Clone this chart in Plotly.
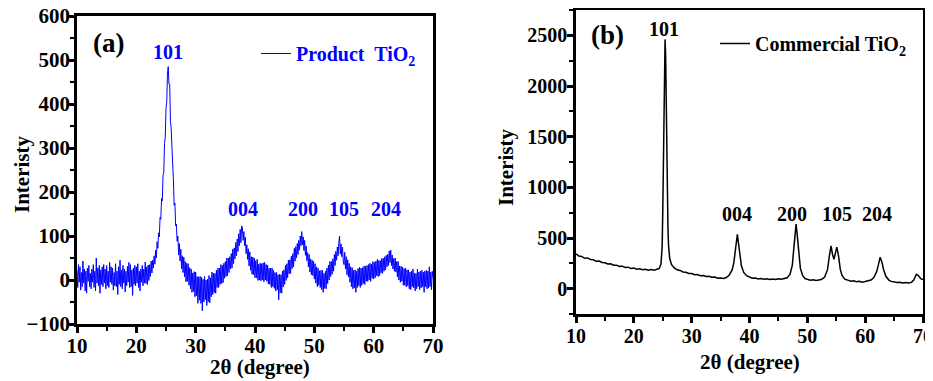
import numpy as np
import plotly.graph_objects as go

# The page body keeps an 8 px margin, so the figure itself is 8 px smaller and
# every position below is given in window pixels and converted.
WIN_W, WIN_H, BODY = 933, 381, 8
W, H = WIN_W - BODY, WIN_H - BODY

# ---------------- data ----------------
# (a) Product TiO2: intensity sampled every 0.125 deg from 10 to 70 deg (2-theta)
product_start, product_end = 10, 70
product_intensity = [
    23, -17, 35, -5, 30, -23, 17, -15,
    43, -7, 25, -25, 20, -30, 27, -3,
    33, -15, 15, -20, 25, -5, 35, -17,
    20, -25, 50, -7, 27, -13, 33, -30,
    23, -10, 30, -15, 35, -7, 25, -20,
    33, -13, 20, -17, 40, -5, 30, -10,
    27, -23, 17, -13, 37, -15, 20, -33,
    30, -10, 45, -15, 23, -20, 33, -7,
    25, -27, 20, -13, 31, -5, 40, -17,
    35, -15, 23, -35, 27, -10, 33, -13,
    30, -7, 37, -17, 20, -25, 25, -5,
    33, -13, 25, -7, 41, -8, 30, -10,
    34, -1, 35, 8, 43, 16, 45, 27,
    55, 36, 68, 50, 87, 72, 107, 98,
    142, 138, 185, 180, 237, 245, 310, 325,
    390, 405, 470, 485, 445, 445, 360, 345,
    302, 235, 227, 170, 175, 123, 127, 88,
    100, 57, 83, 43, 70, 25, 55, 17,
    52, 7, 42, -4, 38, -3, 37, -12,
    28, -20, 25, -28, 16, -26, 19, -38,
    18, -36, 8, -53, 7, -46, 8, -53,
    6, -70, 2, -50, 8, -45, 0, -58,
    2, -49, 10, -52, 5, -38, 18, -33,
    15, -29, 15, -30, 22, -17, 27, -17,
    27, -10, 35, -8, 33, -6, 38, 4,
    42, 8, 50, 10, 50, 17, 53, 25,
    60, 27, 70, 37, 73, 48, 85, 55,
    93, 65, 105, 78, 115, 85, 123, 118,
    90, 110, 78, 97, 60, 80, 47, 71,
    32, 64, 22, 53, 13, 52, 12, 50,
    5, 44, 5, 47, -1, 36, 0, 38,
    -2, 37, 0, 39, -4, 40, 0, 35,
    -3, 34, -9, 27, -10, 27, -17, 27,
    -15, 22, -19, 17, -25, 17, -22, 12,
    -45, 13, -29, 12, -30, 20, -16, 23,
    -10, 33, -1, 37, 5, 45, 14, 46,
    15, 54, 26, 60, 30, 72, 43, 76,
    50, 83, 58, 90, 68, 100, 78, 110,
    80, 98, 67, 90, 56, 77, 44, 62,
    30, 58, 18, 48, 12, 45, 10, 42,
    2, 37, -7, 30, -15, 27, -12, 21,
    -17, 22, -22, 22, -28, 15, -19, 20,
    -20, 27, -8, 34, 0, 42, 8, 42,
    13, 48, 20, 58, 33, 65, 45, 75,
    55, 85, 100, 59, 82, 53, 75, 43,
    35, 63, 25, 53, 12, 46, 7, 38,
    -5, 30, -15, 28, -20, 22, -18, 23,
    -28, 20, -17, 26, -13, 29, -17, 27,
    -12, 28, -8, 32, -10, 31, -3, 33,
    -3, 35, 0, 38, -3, 36, 4, 42,
    2, 40, 5, 43, 10, 47, 8, 44,
    10, 44, 16, 49, 15, 49, 20, 53,
    23, 56, 30, 58, 33, 66, 40, 68,
    33, 57, 25, 49, 20, 50, 18, 42,
    7, 42, 0, 32, -5, 31, -3, 29,
    -12, 26, -12, 27, -16, 23, -13, 23,
    -20, 18, -22, 20, -15, 25, -18, 15,
    -25, 15, -20, 25, -15, 18, -22, 20,
    -18, 22, -15, 18, -28, 20, -15, 22,
    -20, 20, -18, 30, -15, 18, -22, 20,
    5,
]
product_2theta = np.linspace(product_start, product_end, len(product_intensity))

# (b) Commercial TiO2
commercial_2theta = [
    10, 10.5, 11, 11.5, 12, 12.5, 13, 13.5, 14, 14.5, 15, 15.5, 16, 16.5, 17, 17.5,
    18, 18.5, 19, 19.5, 20, 20.5, 21, 21.5, 22, 22.5, 23, 23.5, 24,
    24.4, 24.7, 24.9,
    25.0, 25.1, 25.2, 25.3, 25.4, 25.5, 25.6, 25.7, 25.8, 25.9, 26.0,
    26.2, 26.5, 26.8,
    27, 27.5, 28, 28.5, 29, 29.5, 30, 30.5, 31, 31.5, 32, 32.5, 33, 33.5, 34, 34.5,
    35, 35.5, 36, 36.5,
    37, 37.3, 37.6, 37.75, 37.9, 38.05, 38.3, 38.6,
    39, 39.5, 40, 40.5, 41, 41.5, 42, 42.5, 43, 43.5, 44, 44.5, 45, 45.5, 46, 46.5,
    47, 47.4, 47.7, 47.9, 48.05, 48.2, 48.5, 48.8, 49.2, 49.6,
    50, 50.5, 51, 51.5, 52, 52.5, 53, 53.5,
    53.8, 54.1, 54.35, 54.6, 54.85, 55.1, 55.4, 55.7,
    56, 56.5, 57, 57.5, 58, 58.5, 59, 59.5, 60, 60.5, 61, 61.5, 62,
    62.3, 62.6, 62.9, 63.2, 63.6, 64.1, 64.5,
    65, 65.5, 66, 66.5, 67, 67.5, 68,
    68.4, 68.85, 69.2, 69.6, 70,
]
commercial_intensity = [
    345, 322, 318, 300, 303, 288, 285, 270, 272, 258, 256, 243, 245, 232, 232, 220,
    222, 210, 212, 200, 203, 192, 196, 186, 192, 183, 190, 182, 192,
    200, 245, 420,
    750, 1150, 1700, 2250, 2460, 2300, 1800, 1200, 850, 600, 430,
    300, 240, 212,
    205, 186, 180, 165, 162, 150, 150, 138, 140, 128, 130, 120, 122, 112, 114, 104,
    106, 100, 110, 135,
    185, 260, 400, 490, 537, 470, 340, 225,
    160, 128, 115, 104, 106, 96, 100, 92, 98, 90, 96, 90, 97, 92, 100, 108,
    140, 230, 420, 590, 637, 560, 360, 200, 128, 100,
    92, 84, 88, 80, 86, 92, 115, 190,
    320, 422, 340, 290, 350, 410, 320, 190,
    130, 92, 84, 74, 78, 68, 72, 64, 70, 74, 85, 110, 170,
    240, 310, 260, 185, 120, 85, 72,
    68, 60, 64, 56, 60, 55, 62,
    85, 142, 130, 98, 90,
]

peak_labels = ["101", "004", "200", "105", "204"]
product_label_x = [25.4, 38.0, 48.1, 55.0, 62.1]
product_label_y = [518, 161, 161, 161, 161]
commercial_label_x = [25.3, 37.9, 47.4, 55.2, 62.1]
commercial_label_y = [2567, 736, 736, 736, 736]

# ---------------- styling ----------------
FONT = "Liberation Serif"
BLUE = "#0000ff"


def px_x(p):
    return (p - BODY) / W


def px_y(p):
    return 1 - (p - BODY) / H


def axis_style(dtick, minor_dtick, size, standoff):
    return dict(
        showline=True, linewidth=2.5, linecolor="black", mirror=True,
        ticks="outside", ticklen=6, tickwidth=2.5, tickcolor="black",
        showgrid=False, zeroline=False, dtick=dtick, automargin=False,
        ticklabelstandoff=standoff, ticklabeloverflow="allow",
        tickfont=dict(family=FONT, size=size, color="black", weight="bold"),
        minor=dict(ticks="outside", ticklen=4, tickwidth=2, tickcolor="black", dtick=minor_dtick, showgrid=False),
    )


fig = go.Figure()
fig.add_trace(go.Scatter(
    x=product_2theta, y=product_intensity, mode="lines",
    line=dict(color=BLUE, width=1), name="Product\u00a0 TiO<sub>2</sub>",
    xaxis="x", yaxis="y", legend="legend",
))
fig.add_trace(go.Scatter(
    x=commercial_2theta, y=commercial_intensity, mode="lines",
    line=dict(color="black", width=1.5), name="Commercial TiO<sub>2</sub>",
    xaxis="x2", yaxis="y2", legend="legend2",
))

xa = axis_style(10, 5, 21, -5)
xa.update(range=[10, 70], domain=[px_x(77), px_x(433)], anchor="y", tick0=10)
ya = axis_style(100, 50, 21, -6)
ya.update(range=[-100, 600], domain=[px_y(324), px_y(16)], anchor="x", tick0=0)
xb = axis_style(10, 5, 20, -4)
xb.update(range=[10, 70], domain=[px_x(576), px_x(923)], anchor="y2", tick0=10)
yb = axis_style(500, 250, 20, -4)
yb.update(range=[-250, 2750], domain=[px_y(314), px_y(10)], anchor="x2", tick0=0)

annotations = []


def add_text(text, x, y, size, color="black", angle=0):
    annotations.append(dict(
        text=text, x=px_x(x), y=px_y(y), xref="paper", yref="paper",
        xanchor="center", yanchor="middle", showarrow=False, textangle=angle,
        font=dict(family=FONT, size=size, color=color, weight="bold"),
    ))


add_text("Interisty", 22, 175, 21, angle=-90)
add_text("2θ (degree)", 260, 367, 21)
add_text("Interisty", 506, 168, 21, angle=-90)
add_text("2θ (degree)", 750, 362, 21)
add_text("(a)", 108, 43, 27)
add_text("(b)", 607, 35, 27)

for lab, lx, ly in zip(peak_labels, product_label_x, product_label_y):
    annotations.append(dict(text=lab, x=lx, y=ly, xref="x", yref="y", showarrow=False,
                            xanchor="center", yanchor="middle",
                            font=dict(family=FONT, size=20, color=BLUE, weight="bold")))
for lab, lx, ly in zip(peak_labels, commercial_label_x, commercial_label_y):
    annotations.append(dict(text=lab, x=lx, y=ly, xref="x2", yref="y2", showarrow=False,
                            xanchor="center", yanchor="middle",
                            font=dict(family=FONT, size=20, color="black", weight="bold")))

fig.update_layout(
    width=W, height=H, autosize=False,
    margin=dict(l=0, r=0, t=0, b=0, autoexpand=False),
    font=dict(family=FONT, color="black"),
    paper_bgcolor="white", plot_bgcolor="white",
    xaxis=xa, yaxis=ya, xaxis2=xb, yaxis2=yb,
    annotations=annotations,
    showlegend=True,
    legend=dict(x=px_x(256), y=px_y(34), xanchor="left", yanchor="top",
                bgcolor="rgba(0,0,0,0)", borderwidth=0,
                font=dict(family=FONT, size=20, color=BLUE, weight="bold")),
    legend2=dict(x=px_x(715), y=px_y(24), xanchor="left", yanchor="top",
                 bgcolor="rgba(0,0,0,0)", borderwidth=0,
                 font=dict(family=FONT, size=20, color="black", weight="bold")),
)

fig.write_html("out.html")
